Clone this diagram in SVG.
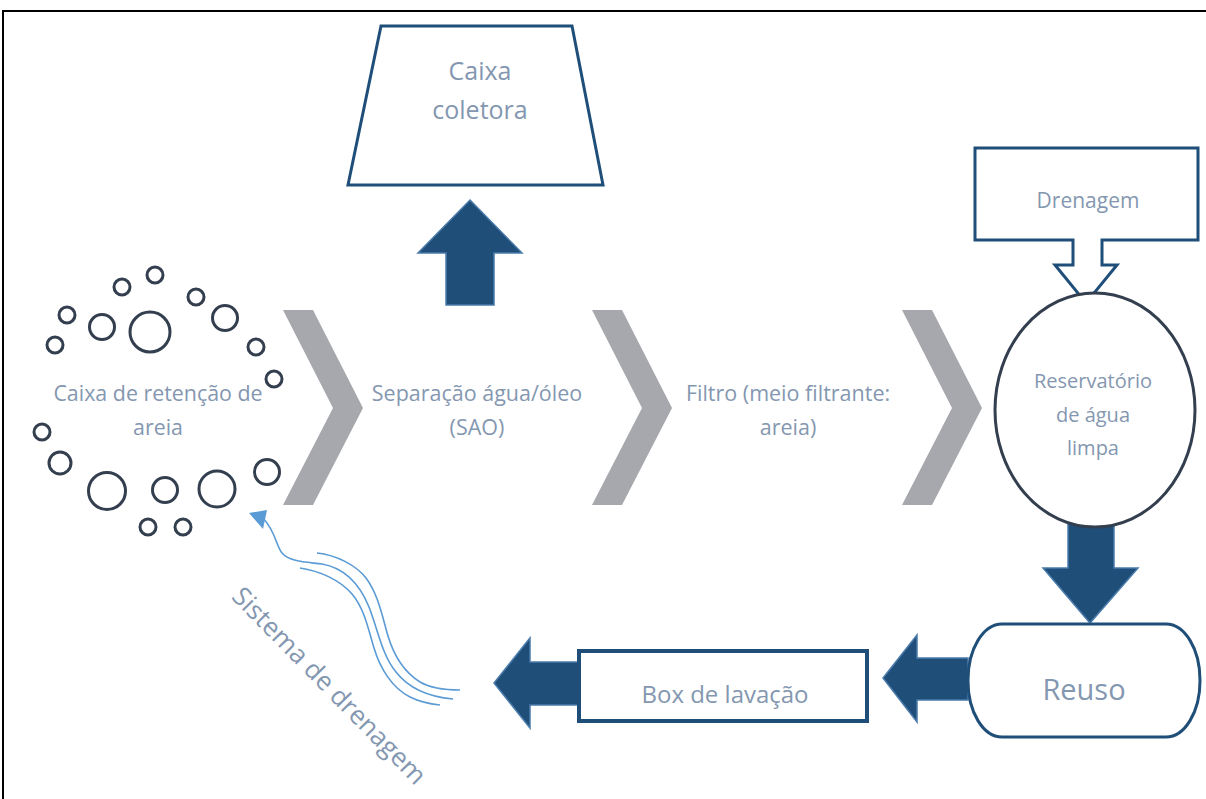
<svg xmlns="http://www.w3.org/2000/svg" width="1206" height="799" viewBox="0 0 1206 799">
<style>
.t{font-family:"Open Sans","Liberation Sans",sans-serif;fill:#8497b0;text-anchor:middle}
.ring{fill:none;stroke:#333f4f;stroke-width:3}
.box{fill:#fff;stroke:#1f4e79;stroke-width:3}
.fat{fill:#1f4e79;stroke:#4a7bab;stroke-width:1.5;stroke-linejoin:miter}
.chev{fill:#a6a8ad}
.wave{fill:none;stroke:#5b9bd5;stroke-width:1.6}
</style>
<rect width="1206" height="799" fill="#fff"/>
<path d="M3,799 V11 H1206" fill="none" stroke="#000" stroke-width="2"/>

<g id="connectors">
  <polygon class="chev" points="283,310 313,310 363,408 313,505 283,505 333,408"/>
  <polygon class="chev" points="592,310 622,310 672,408 622,505 592,505 642,408"/>
  <polygon class="chev" points="902,310 932,310 982,408 932,505 902,505 952,408"/>
  <polygon class="fat" points="470,200 522,253 494,253 494,305 446,305 446,253 418,253"/>
  <polygon class="fat" points="1068,517 1114,517 1114,568 1138,568 1090,623 1043,568 1068,568"/>
  <polygon class="fat" points="968,658 968,700 917,700 917,722 883,678 917,635 917,658"/>
  <polygon class="fat" points="578,662 578,705 530,705 530,728 494,683 530,638 530,662"/>
  <g id="drainage-flow">
    <path class="wave" d="M317,553 C336,555 356,565 366,578 C378,594 382,615 388,636 C394,656 404,672 420,682 C432,689 446,690 460,690"/>
    <path class="wave" d="M263,518 C276,532 276,546 282,553 C290,562 306,562 322,564 C345,568 360,585 369,607 C378,630 382,655 396,672 C410,690 430,697 453,699"/>
    <path class="wave" d="M300,568 C320,571 340,580 352,594 C364,608 368,628 374,648 C380,668 392,688 410,697 C420,702 430,704 440,705"/>
    <polygon points="249,513 267,510 263,529" fill="#5b9bd5"/>
  </g>
</g>

<g id="caixa-coletora">
  <polygon class="box" points="381,26 572,26 603,185 348,185"/>
  <text class="t" x="480" y="80" font-size="25">Caixa</text>
  <text class="t" x="480" y="119" font-size="25">coletora</text>
</g>

<g id="caixa-retencao">
  <circle class="ring" cx="155" cy="275" r="8"/>
  <circle class="ring" cx="122" cy="287" r="8"/>
  <circle class="ring" cx="67" cy="315" r="8"/>
  <circle class="ring" cx="102" cy="327" r="12.5"/>
  <circle class="ring" cx="150" cy="332" r="20"/>
  <circle class="ring" cx="196" cy="297" r="8"/>
  <circle class="ring" cx="225" cy="318" r="12.5"/>
  <circle class="ring" cx="256" cy="347" r="8"/>
  <circle class="ring" cx="55" cy="345" r="8"/>
  <circle class="ring" cx="274" cy="379" r="8"/>
  <circle class="ring" cx="42" cy="432" r="8"/>
  <circle class="ring" cx="60" cy="463" r="11"/>
  <circle class="ring" cx="107" cy="491" r="18.5"/>
  <circle class="ring" cx="165" cy="490" r="12.5"/>
  <circle class="ring" cx="217" cy="489" r="18"/>
  <circle class="ring" cx="267" cy="472" r="12.5"/>
  <circle class="ring" cx="148" cy="527" r="8"/>
  <circle class="ring" cx="183" cy="527" r="8"/>
  <text class="t" x="158" y="401" font-size="21.4">Caixa de retenção de</text>
  <text class="t" x="158" y="435" font-size="21.4">areia</text>
</g>

<g id="sao">
  <text class="t" x="477" y="401" font-size="21.5">Separação água/óleo</text>
  <text class="t" x="477" y="435" font-size="21.5">(SAO)</text>
</g>

<g id="filtro">
  <text class="t" x="788" y="401" font-size="21.5">Filtro (meio filtrante:</text>
  <text class="t" x="788" y="435" font-size="21.5">areia)</text>
</g>

<g id="drenagem">
  <path class="box" d="M975,148 H1198 V240 H1102 V265 H1117 L1086,303 L1055,265 H1073 V240 H975 Z"/>
  <text class="t" x="1088" y="208" font-size="21">Drenagem</text>
</g>

<g id="reservatorio">
  <ellipse cx="1095" cy="410" rx="100" ry="117" fill="#fff" stroke="#333f4f" stroke-width="3"/>
  <text class="t" x="1093" y="388" font-size="20">Reservatório</text>
  <text class="t" x="1093" y="422" font-size="20">de água</text>
  <text class="t" x="1093" y="455" font-size="20">limpa</text>
</g>

<g id="reuso">
  <rect class="box" x="968" y="624" width="232" height="113" rx="34" ry="56"/>
  <text class="t" x="1084" y="700" font-size="29">Reuso</text>
</g>

<g id="box-lavacao">
  <rect x="579" y="651" width="288" height="70" fill="#fff" stroke="#1f4e79" stroke-width="4"/>
  <text class="t" x="725" y="703" font-size="24">Box de lavação</text>
</g>

<g id="sistema-drenagem">
  <text class="t" transform="translate(323,692) rotate(45.5)" x="0" y="0" font-size="26">Sistema de drenagem</text>
</g>
</svg>
